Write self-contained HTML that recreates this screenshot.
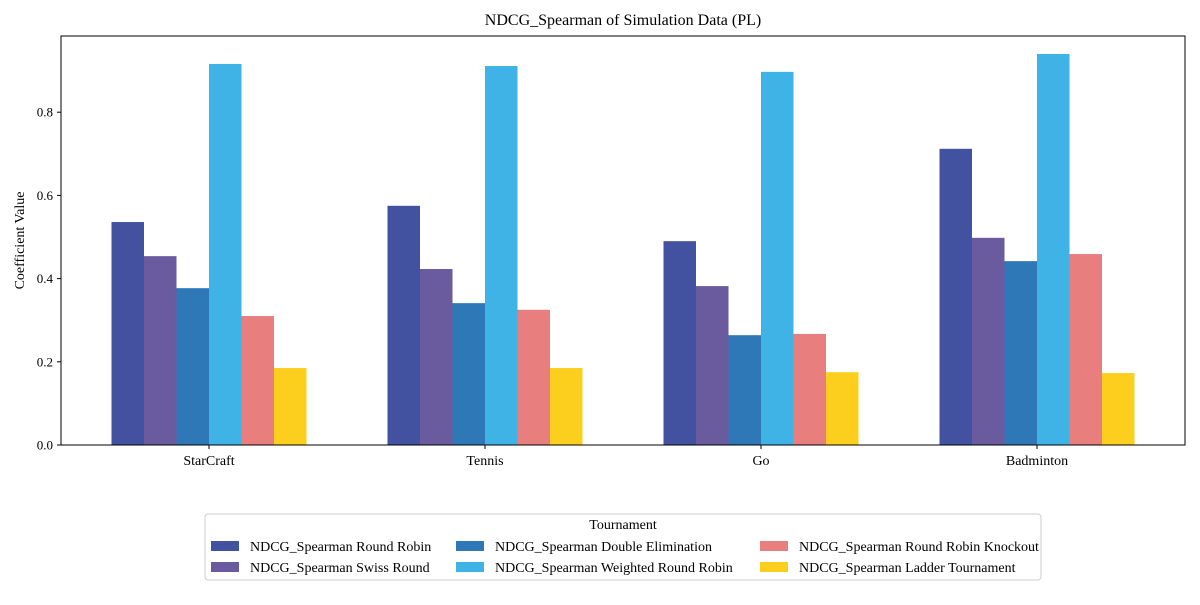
<!DOCTYPE html>
<html><head><meta charset="utf-8"><style>
body{margin:0;background:#fff;font-family:"Liberation Serif",serif;}
svg text{font-family:"Liberation Serif",serif;fill:#000;}
</style></head><body>
<svg id="c" width="1200" height="600"></svg>
<script>
const categories=["StarCraft","Tennis","Go","Badminton"];
const seriesNames=["NDCG_Spearman Round Robin","NDCG_Spearman Swiss Round","NDCG_Spearman Double Elimination","NDCG_Spearman Weighted Round Robin","NDCG_Spearman Round Robin Knockout","NDCG_Spearman Ladder Tournament"];
const roundRobin=[0.536,0.575,0.490,0.712];
const swissRound=[0.454,0.423,0.382,0.498];
const doubleElim=[0.377,0.341,0.264,0.442];
const weightedRR=[0.916,0.911,0.897,0.940];
const rrKnockout=[0.310,0.325,0.267,0.459];
const ladder=[0.185,0.185,0.175,0.173];
const yTicks=[0.0,0.2,0.4,0.6,0.8];
const series=[roundRobin,swissRound,doubleElim,weightedRR,rrKnockout,ladder];
const colors=["#4352a0","#6a5a9e","#2e78b8","#3fb3e6","#e87e7e","#fccf1e"];
const NS="http://www.w3.org/2000/svg";
const svg=document.getElementById('c');
const L=61,R=1185,T=36,B=445;
const y=v=>B-v*416;
const step=276;
const cx=i=>209+step*i;
const bw=32.5;
function mk(t,a,txt){const e=document.createElementNS(NS,t);for(const k in a)e.setAttribute(k,a[k]);if(txt!==undefined)e.textContent=txt;svg.appendChild(e);return e;}
let e;
e=mk('text',{x:(L+R)/2,y:25,'text-anchor':'middle','font-size':16},'NDCG_Spearman of Simulation Data (PL)');


series.forEach((s,si)=>{s.forEach((v,ci)=>{
 const x=cx(ci)-3*bw+si*bw;
 const r=mk('rect',{x:x,y:y(v),width:bw,height:B-y(v),fill:colors[si]});
 
 
});});
e=mk('rect',{x:L,y:T,width:R-L,height:B-T,fill:'none',stroke:'#000','stroke-width':1});


yTicks.forEach(t=>{
 mk('line',{x1:L-4,x2:L,y1:y(t),y2:y(t),stroke:'#000'});
 const tx=mk('text',{x:L-8,y:y(t)+4.5,'text-anchor':'end','font-size':13},t.toFixed(1));
 
 
});
categories.forEach((c,i)=>{
 mk('line',{x1:cx(i),x2:cx(i),y1:B,y2:B+4,stroke:'#000'});
 const tx=mk('text',{x:cx(i),y:B+20,'text-anchor':'middle','font-size':14},c);
 
 
});
e=mk('text',{x:24,y:(T+B)/2,'text-anchor':'middle','font-size':14,transform:'rotate(-90 24 '+(T+B)/2+')'},'Coefficient Value');


e=mk('rect',{x:205,y:514,width:836,height:66,fill:'#fff',stroke:'#ccc',rx:3});


e=mk('text',{x:623,y:529,'text-anchor':'middle','font-size':14},'Tournament');


const colX=[211,456,760];
seriesNames.forEach((n,i)=>{
 const col=Math.floor(i/2),row=i%2;
 const x=colX[col],yy=546+row*21;
 mk('rect',{x:x,y:yy-5,width:28,height:10,fill:colors[i]});
 const tx=mk('text',{x:x+39,y:yy+5,'font-size':14},n);
 
 
});
</script>
</body></html>
